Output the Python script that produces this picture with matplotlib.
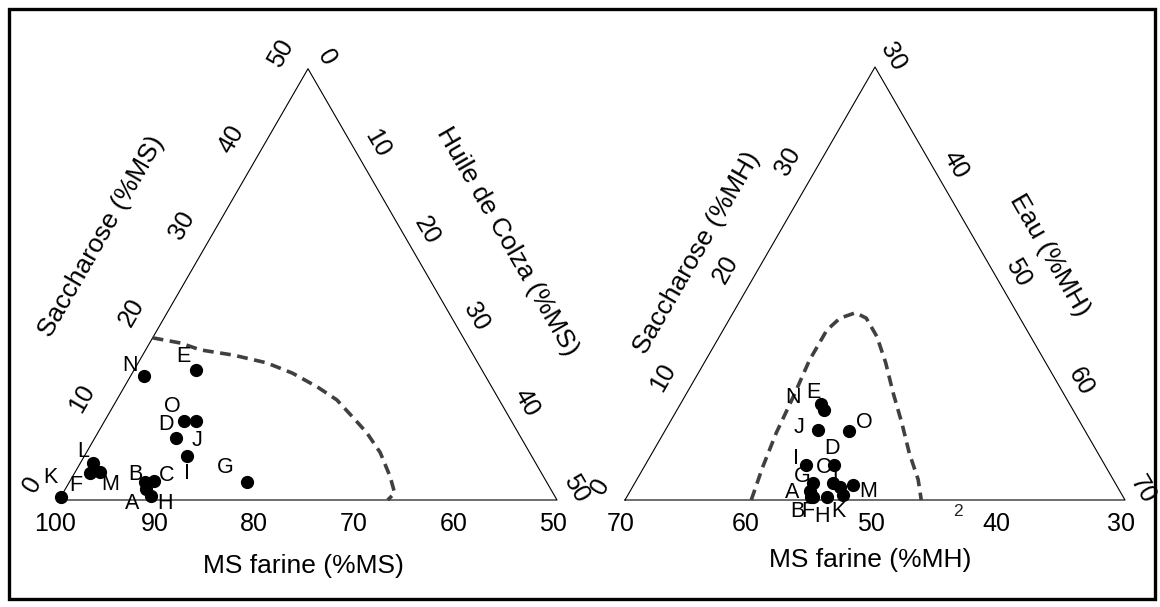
import numpy as np
import matplotlib
matplotlib.use("Agg")
import matplotlib.pyplot as plt
from matplotlib.patches import Rectangle

plt.rcParams['font.family'] = ['Liberation Sans', 'DejaVu Sans']

W_PX, H_PX = 1160, 607
PT = 72 / 100.0   # points per pixel
R3 = np.sqrt(3) / 2

names = list("ABCDEFGHIJKLMNO")

# left diagram, % of dry matter (farine + saccharose + huile = 100)
ms_farine = [90.6, 90.3, 89.4, 84.7, 78.7, 95.3, 80.1, 90.5, 84.6, 81.6, 99.6, 94.4, 94.3, 84.3, 82.8]
ms_sucrose = [1.3, 2.1, 2.2, 7.2, 15.1, 3.1, 2.1, 0.5, 5.1, 9.2, 0.4, 4.3, 3.2, 14.4, 9.2]
ms_oil = [8.1, 7.6, 8.4, 8.1, 6.2, 1.6, 17.8, 9.0, 10.3, 9.2, 0.0, 1.3, 2.5, 1.3, 8.0]

# right diagram, % of wet matter (farine + saccharose + eau = 100)
mh_farine = [54.8, 55.0, 52.6, 51.7, 49.9, 54.8, 54.2, 53.7, 53.9, 51.3, 52.3, 52.2, 51.1, 49.9, 48.9]
mh_sucrose = [0.8, 0.3, 1.6, 3.2, 8.3, 0.3, 1.6, 0.3, 3.2, 6.5, 0.5, 1.2, 1.4, 8.9, 6.4]
mh_water = [44.4, 44.7, 45.8, 45.1, 41.8, 44.9, 44.2, 46.0, 42.9, 42.2, 47.2, 46.6, 47.5, 41.2, 44.7]

# dashed limit curves
ms_lim_sucrose = [18.8, 18.2, 17.4, 16.8, 15.9, 14.7, 13.1, 11.6, 9.6, 7.8, 5.5, 2.7, 0.8, 0.0]
ms_lim_oil = [0.0, 3.1, 5.5, 9.1, 12.9, 16.1, 19.4, 22.1, 24.7, 27.0, 29.5, 31.9, 33.3, 33.0]
mh_lim_sucrose = [0.0, 3.0, 6.2, 9.5, 12.9, 15.7, 16.8, 17.3, 16.8, 15.1, 12.7, 9.9, 7.1, 4.3, 1.9, 0.0]
mh_lim_water = [40.1, 39.5, 39.0, 38.7, 38.3, 38.3, 38.8, 39.8, 40.9, 42.6, 44.5, 46.5, 48.6, 50.6, 52.5, 53.7]

ms_base_ticks = [100, 90, 80, 70, 60, 50]
ms_left_ticks = [0, 10, 20, 30, 40, 50]
ms_right_ticks = [0, 10, 20, 30, 40, 50]
mh_base_ticks = [70, 60, 50, 40, 30]
mh_left_ticks = [0, 10, 20, 30]
mh_right_ticks = [30, 40, 50, 60, 70]

# label offsets in pixels (dx, dy down)
ms_lab_off = {"A": (-14, 15), "B": (-10, -7), "C": (13, -6), "D": (-10, -13), "E": (-13, -13),
              "F": (-15, 12), "G": (-21, -14), "H": (14, 8), "I": (0, 17), "J": (1, 20),
              "K": (-11, -19), "L": (-10, -11), "M": (10, 12), "N": (-14, -10), "O": (-12, -14)}
mh_lab_off = {"A": (-18, 1), "B": (-13, 15), "C": (-9, -15), "D": (-2, -17), "E": (-11, -18),
              "F": (-5, 15), "G": (-10, -6), "H": (-5, 20), "I": (-10, -7), "J": (-19, -2),
              "K": (-5, 17), "L": (-2, -7), "M": (16, 7), "N": (-28, -6), "O": (16, -8)}

fig = plt.figure(figsize=(W_PX / 100, H_PX / 100), dpi=100)


def make_ax(px0, px1, ox, oy, scale):
    ax = fig.add_axes([px0 / W_PX, 0, (px1 - px0) / W_PX, 1])
    ax.set_xlim((px0 - ox) / scale, (px1 - ox) / scale)
    ax.set_ylim(-(H_PX - oy) / scale, oy / scale)
    ax.axis('off')
    return ax


def lab(ax, x, y, txt, dx, dy, rot=0, size=18):
    ax.annotate(txt, (x, y), xytext=(dx * PT, -dy * PT), textcoords='offset points',
                ha='center', va='center', rotation=rot, fontsize=size, rotation_mode='anchor')


def diagram(ax, side, lo, farine, sucrose, third, lim_s, lim_t, offs,
            base_ticks, left_ticks, right_ticks, tick_d, titles, title_d):
    s = np.array(sucrose)
    t = np.array(third) - lo
    ax.plot([0, side, side / 2, 0], [0, 0, side * R3, 0], color='black', lw=0.8)
    ls = np.array(lim_s)
    lt = np.array(lim_t) - lo
    ax.plot(lt + ls / 2, ls * R3, color='#404040', lw=2.6, ls=(0, (3.0, 1.8)))
    ax.plot(t + s / 2, s * R3, 'o', color='black', ms=8.5)
    for n, xi, yi in zip(names, t + s / 2, s * R3):
        dx, dy = offs[n]
        lab(ax, xi, yi, n, dx, dy, size=15.5)
    top_f = max(base_ticks)
    for v in base_ticks:
        lab(ax, top_f - v, 0, str(v), -4, 24)
    dl, dr = tick_d
    for v in left_ticks:
        lab(ax, v / 2, v * R3, str(v), -0.866 * dl, -0.5 * dl, rot=60)
    for v in right_ticks:
        e = v - lo
        lab(ax, e + (side - e) / 2, (side - e) * R3, str(v), 0.866 * dr, -0.5 * dr, rot=-60)
    lab(ax, side / 4, side / 2 * R3, titles[0], -0.866 * title_d[0], -0.5 * title_d[0], rot=60, size=19)
    lab(ax, side * 3 / 4, side / 2 * R3, titles[1], 0.866 * title_d[1], -0.5 * title_d[1], rot=-60, size=19)
    lab(ax, side / 2, 0, titles[2], -5, title_d[2], size=19)


axl = make_ax(0, 590, 59, 500, 498 / 50)
diagram(axl, 50, 0, ms_farine, ms_sucrose, ms_oil, ms_lim_sucrose, ms_lim_oil, ms_lab_off,
        ms_base_ticks, ms_left_ticks, ms_right_ticks, (31, 22),
        ["Saccharose (%MS)", "Huile de Colza (%MS)", "MS farine (%MS)"], (95, 86, 66))

axr = make_ax(590, 1160, 625, 500, 500 / 40)
diagram(axr, 40, 30, mh_farine, mh_sucrose, mh_water, mh_lim_sucrose, mh_lim_water, mh_lab_off,
        mh_base_ticks, mh_left_ticks, mh_right_ticks, (28, 21),
        ["Saccharose (%MH)", "Eau (%MH)", "MS farine (%MH)"], (61, 57, 60))
axr.annotate("2", (333 / 12.5, 0), xytext=(0, -12 * PT), textcoords='offset points',
             ha='center', va='center', fontsize=12.5, color='#222222')

fig.add_artist(Rectangle((9 / W_PX, 8 / H_PX), 1146 / W_PX, 590 / H_PX, transform=fig.transFigure,
                         fill=False, lw=2.4, ec='black'))

fig.savefig("out.png", dpi=100)
